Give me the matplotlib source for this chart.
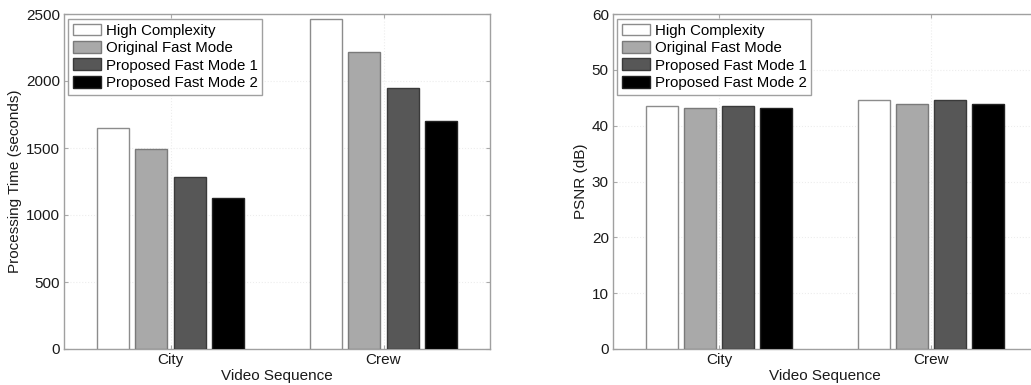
import numpy as np
import matplotlib
matplotlib.use('Agg')
import matplotlib.pyplot as plt

plt.rcParams['font.family'] = ['Liberation Sans', 'DejaVu Sans']

# data
sequences = ['City', 'Crew']
modes = ['High Complexity', 'Original Fast Mode', 'Proposed Fast Mode 1', 'Proposed Fast Mode 2']
time_city = [1650, 1495, 1285, 1130]
time_crew = [2465, 2220, 1950, 1705]
psnr_city = [43.5, 43.2, 43.5, 43.1]
psnr_crew = [44.6, 43.8, 44.6, 43.8]

colors = ['#ffffff', '#a9a9a9', '#575757', '#000000']
edges = ['#8c8c8c', '#7a7a7a', '#3a3a3a', '#222222']

fig = plt.figure(figsize=(10.31, 3.85), dpi=100)
ax1 = fig.add_axes([64/1031, 36/385, 426/1031, 335/385])
ax2 = fig.add_axes([613/1031, 36/385, 424/1031, 335/385])

x = np.arange(1, len(sequences) + 1)
offsets = np.array([-0.27, -0.09, 0.09, 0.27])
width = 0.15


def draw(ax, city, crew, ylim, yticks, ylabel):
    vals = np.array([city, crew])  # (n_seq, n_modes)
    for i in range(len(modes)):
        ax.bar(x + offsets[i], vals[:, i], width, color=colors[i],
               edgecolor=edges[i], linewidth=1.0, label=modes[i], zorder=3)
    ax.set_xlim(0.5, 2.5)
    ax.set_ylim(*ylim)
    ax.set_yticks(yticks)
    ax.set_xticks(x)
    ax.set_xticklabels(sequences)
    ax.grid(True, linestyle=':', color='#ededed', linewidth=0.8, zorder=0)
    ax.tick_params(direction='in', length=3, top=True, right=True,
                   colors='#aaaaaa', labelcolor='#1a1a1a', labelsize=11, pad=3)
    for s in ax.spines.values():
        s.set_color('#a0a0a0')
        s.set_linewidth(1.0)
    ax.set_xlabel('Video Sequence', fontsize=11, color='#1a1a1a', labelpad=1)
    ax.set_ylabel(ylabel, fontsize=11, color='#1a1a1a', labelpad=3)
    leg = ax.legend(loc='upper left', bbox_to_anchor=(0.01, 0.985), borderaxespad=0,
                    fontsize=10.8, fancybox=False, framealpha=1, edgecolor='#a0a0a0',
                    handlelength=1.9, handleheight=0.85, handletextpad=0.3,
                    labelspacing=0.22, borderpad=0.3)
    leg.get_frame().set_linewidth(1.0)
    leg.set_zorder(5)


draw(ax1, time_city, time_crew, (0, 2500), np.arange(0, 2501, 500), 'Processing Time (seconds)')
draw(ax2, psnr_city, psnr_crew, (0, 60), np.arange(0, 61, 10), 'PSNR (dB)')

fig.savefig('out.png', dpi=100)
